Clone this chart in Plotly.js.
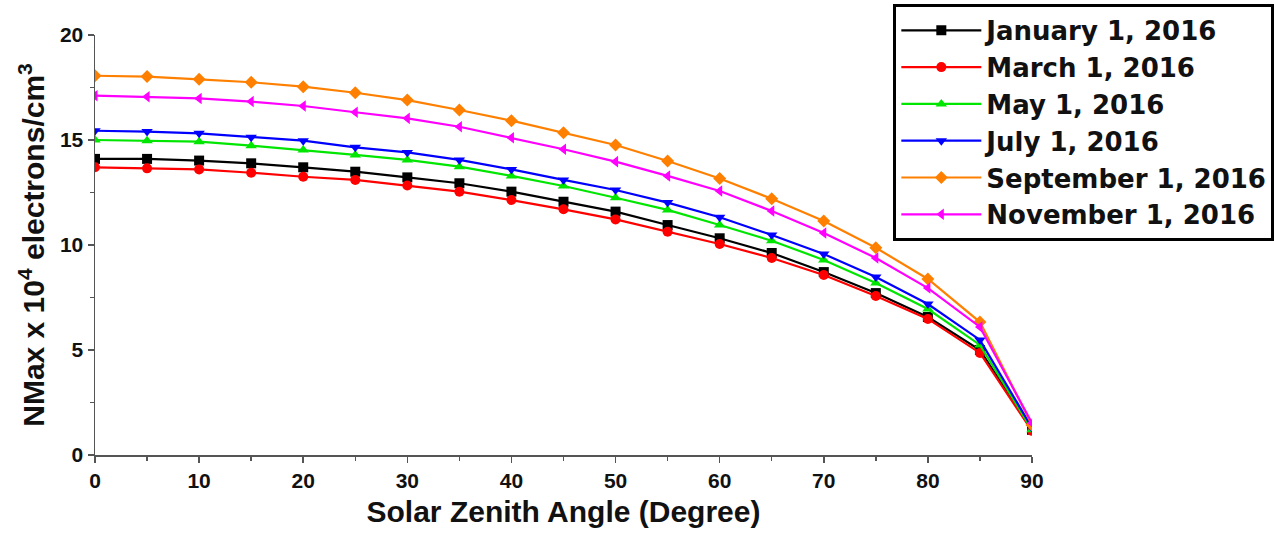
<!DOCTYPE html>
<html>
<head>
<meta charset="utf-8">
<script src="https://cdn.plot.ly/plotly-3.0.1.min.js"></script>
<style>html,body{margin:0;padding:0;background:#fff;}#chart{width:1274px;height:536px;}</style>
</head>
<body>
<div id="chart"></div>
<script>
const zenith = [0,5,10,15,20,25,30,35,40,45,50,55,60,65,70,75,80,85,90];
const seriesNames = ["January 1, 2016","March 1, 2016","May 1, 2016","July 1, 2016","September 1, 2016","November 1, 2016"];
const jan = [14.1,14.1,14.02,13.89,13.70,13.49,13.22,12.94,12.54,12.06,11.59,10.95,10.32,9.62,8.71,7.71,6.57,5.0,1.2];
const mar = [13.70,13.65,13.60,13.44,13.25,13.1,12.83,12.54,12.14,11.70,11.22,10.63,10.05,9.38,8.57,7.57,6.48,4.86,1.15];
const may = [15.0,14.97,14.92,14.73,14.52,14.29,14.05,13.73,13.29,12.81,12.25,11.67,10.95,10.2,9.29,8.19,6.95,5.24,1.2];
const jul = [15.44,15.40,15.32,15.13,14.97,14.65,14.41,14.05,13.60,13.10,12.62,12.02,11.32,10.48,9.57,8.48,7.19,5.48,1.3];
const sep = [18.06,18.02,17.89,17.75,17.54,17.25,16.9,16.43,15.92,15.35,14.76,14.0,13.17,12.2,11.14,9.87,8.38,6.33,1.43];
const nov = [17.11,17.06,16.98,16.83,16.62,16.32,16.03,15.63,15.11,14.56,13.97,13.29,12.57,11.62,10.57,9.38,7.95,6.1,1.52];

const allSeries = [jan, mar, may, jul, sep, nov];
const colors = ["#000000","#ff0000","#00e600","#0000ff","#ff8000","#ff00ff"];
const symbols = ["square","circle","triangle-up","triangle-down","diamond","triangle-left"];

const traces = allSeries.map((ys, i) => ({
  x: zenith, y: ys, name: seriesNames[i], type: "scatter", mode: "lines+markers",
  line: {color: colors[i], width: 2.2},
  marker: {color: colors[i], symbol: symbols[i], size: 10}
}));

const FONT = "Arial, 'Liberation Sans', sans-serif";
const layout = {
  width: 1274, height: 536,
  margin: {l: 95, r: 242, t: 35, b: 81, autoexpand: false},
  paper_bgcolor: "#fff", plot_bgcolor: "#fff",
  font: {family: FONT, color: "#000"},
  showlegend: true,
  legend: {
    x: 0.852, y: 1.074, xanchor: "left", yanchor: "top",
    bgcolor: "#fff", bordercolor: "#000", borderwidth: 3,
    font: {family: "'DejaVu Sans', Arial, sans-serif", size: 26, color: "#111", weight: "bold"},
    itemwidth: 80
  },
  xaxis: {
    range: [0, 90], dtick: 10, tick0: 0,
    showgrid: false, zeroline: false,
    showline: true, linecolor: "#555", linewidth: 1.5,
    ticks: "outside", ticklen: 6, tickcolor: "#555", tickwidth: 1.5,
    minor: {dtick: 5, ticks: "outside", ticklen: 4, tickcolor: "#555", tickwidth: 1.5, showgrid: false},
    tickfont: {family: FONT, size: 21, color: "#111", weight: "bold"},
    title: {text: "Solar Zenith Angle (Degree)", font: {family: FONT, size: 30, color: "#111", weight: "bold"}, standoff: 10}
  },
  yaxis: {
    range: [0, 20], dtick: 5, tick0: 0,
    showgrid: false, zeroline: false,
    showline: true, linecolor: "#555", linewidth: 1.5,
    ticks: "outside", ticklen: 6, tickcolor: "#555", tickwidth: 1.5,
    minor: {dtick: 2.5, ticks: "outside", ticklen: 4, tickcolor: "#555", tickwidth: 1.5, showgrid: false},
    tickfont: {family: FONT, size: 21, color: "#111", weight: "bold"},
    title: {text: "NMax x 10<sup>4</sup> electrons/cm<sup>3</sup>", font: {family: FONT, size: 30, color: "#111", weight: "bold"}, standoff: 6}
  }
};

Plotly.newPlot("chart", traces, layout, {displayModeBar: false, staticPlot: true});
</script>
</body>
</html>
